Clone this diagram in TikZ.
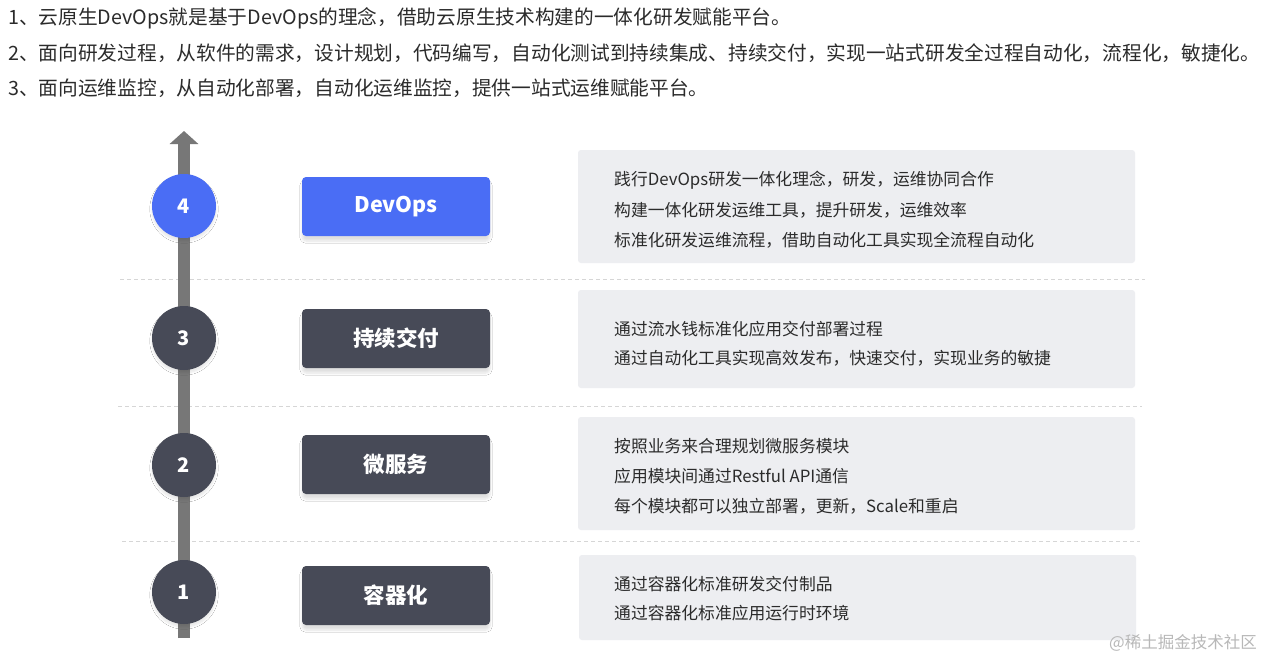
\documentclass[tikz,border=0pt]{standalone}
\usepackage{fontspec}
\setmainfont{Noto Sans CJK SC}
\usetikzlibrary{arrows.meta,shadows.blur}
\definecolor{txt}{HTML}{2B2B2B}
\definecolor{blueA}{HTML}{4A6DF5}
\definecolor{darkA}{HTML}{474A57}
\definecolor{barA}{HTML}{777777}
\definecolor{boxA}{HTML}{EDEEF1}
\definecolor{sepA}{HTML}{D6D6D6}
\definecolor{wmA}{HTML}{B8B8B8}
\tikzset{
  hdr/.style={anchor=west,inner sep=0pt,text=txt,font=\fontsize{19.7}{22}\selectfont},
  desc/.style={anchor=west,inner sep=0pt,text=txt,font=\fontsize{16.8}{19}\selectfont},
  numc/.style={circle,minimum size=64pt,inner sep=0pt,fill=darkA,text=white,font=\fontsize{20}{22}\selectfont\bfseries,
    blur shadow={shadow xshift=0pt,shadow yshift=-3pt,shadow blur steps=6,shadow opacity=10}},
  lab/.style={rounded corners=4pt,minimum width=188pt,minimum height=59pt,inner sep=0pt,fill=darkA,text=white,
    font=\fontsize{21.5}{24}\selectfont\bfseries,
    blur shadow={shadow xshift=0pt,shadow yshift=-5pt,shadow blur steps=8,shadow opacity=12}},
  dbox/.style={rounded corners=3pt,fill=boxA},
  sep/.style={draw=sepA,dashed,dash pattern=on 4pt off 3pt,line width=0.8pt},
}
\begin{document}
\begin{tikzpicture}[x=1pt,y=-1pt]
\useasboundingbox[fill=white] (0,0) rectangle (1263,659);
% header
\node[hdr] (h1) at (8,18) {1、云原生DevOps就是基于DevOps的理念，借助云原生技术构建的一体化研发赋能平台。};
\node[hdr] (h2) at (8,53) {2、面向研发过程，从软件的需求，设计规划，代码编写，自动化测试到持续集成、持续交付，实现一站式研发全过程自动化，流程化，敏捷化。};
\node[hdr] (h3) at (8,88) {3、面向运维监控，从自动化部署，自动化运维监控，提供一站式运维赋能平台。};
% separators
\coordinate (s1a) at (120,279); \coordinate (s1b) at (1145,279);
\coordinate (s2a) at (118,406); \coordinate (s2b) at (1142,406);
\coordinate (s3a) at (122,541); \coordinate (s3b) at (1140,541);
\draw[sep] (s1a) -- (s1b);
\draw[sep] (s2a) -- (s2b);
\draw[sep] (s3a) -- (s3b);
% description boxes
\fill[dbox] (578,150) rectangle (1135,263);
\fill[dbox] (578,290) rectangle (1135,388);
\fill[dbox] (578,417) rectangle (1135,530);
\fill[dbox] (579,555) rectangle (1136,640);
% arrow bar
\coordinate (abot) at (184,638);
\coordinate (atop) at (184,131);
\draw[barA,line width=12pt,-{Triangle[width=28pt,length=13pt]}] (abot) -- (atop);
% circles
\node[numc,fill=blueA] (c4) at (184,206) {4};
\node[numc] (c3) at (184,338) {3};
\node[numc] (c2) at (184,465) {2};
\node[numc] (c1) at (184,592) {1};
% labels
\node[lab,fill=blueA] (l4) at (396,206.5) {DevOps};
\node[lab] (l3) at (396,338.5) {持续交付};
\node[lab] (l2) at (396,464.5) {微服务};
\node[lab] (l1) at (396,595.5) {容器化};
% descriptions
\node[desc] (d41) at (614,180) {践行DevOps研发一体化理念，研发，运维协同合作};
\node[desc] (d42) at (614,210) {构建一体化研发运维工具，提升研发，运维效率};
\node[desc] (d43) at (614,240) {标准化研发运维流程，借助自动化工具实现全流程自动化};
\node[desc] (d31) at (614,329) {通过流水钱标准化应用交付部署过程};
\node[desc] (d32) at (614,358) {通过自动化工具实现高效发布，快速交付，实现业务的敏捷};
\node[desc] (d21) at (614,446) {按照业务来合理规划微服务模块};
\node[desc] (d22) at (614,476) {应用模块间通过Restful API通信};
\node[desc] (d23) at (614,506) {每个模块都可以独立部署，更新，Scale和重启};
\node[desc] (d11) at (614,584) {通过容器化标准研发交付制品};
\node[desc] (d12) at (614,613) {通过容器化标准应用运行时环境};
% watermark
\node[anchor=east,inner sep=0pt,text=wmA,font=\fontsize{16.5}{18}\selectfont] (wm) at (1257,643) {@稀土掘金技术社区};
\end{tikzpicture}
\end{document}
